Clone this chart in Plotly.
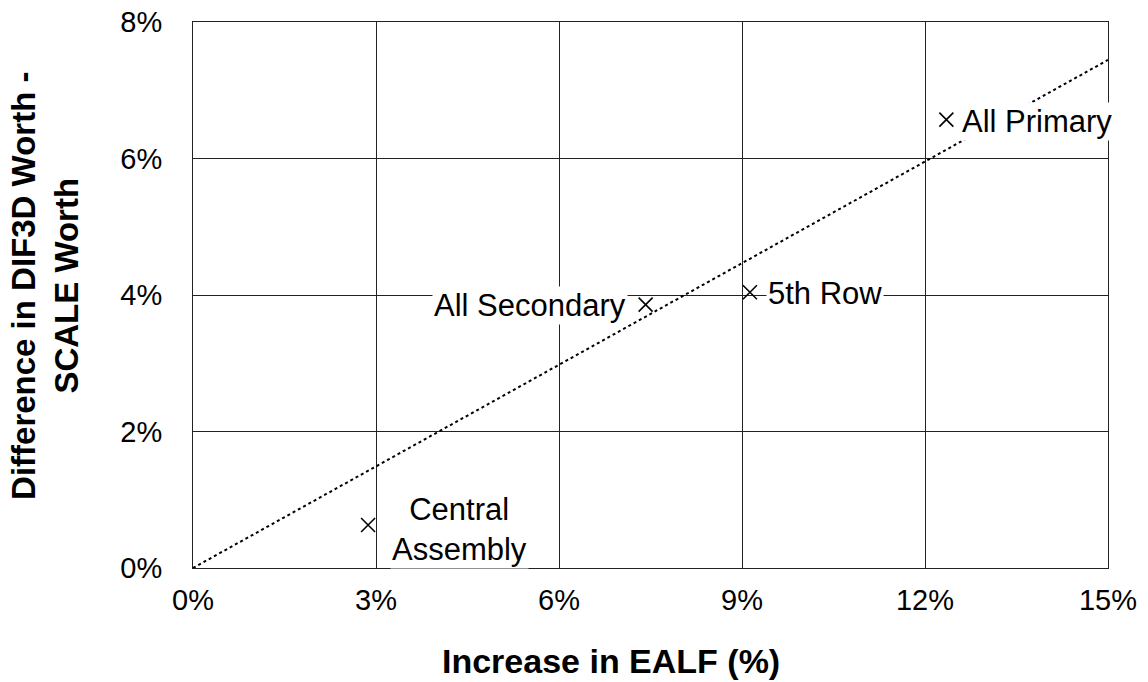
import numpy as np
import plotly.graph_objects as go

# Perturbation cases: EALF increase (%) vs worth difference (%)
cases = ["Central<br>Assembly", "All Secondary", "5th Row", "All Primary"]
ealf_increase = [2.87, 7.42, 9.13, 12.35]
worth_diff = [0.63, 3.86, 4.04, 6.57]

x_ticks = [0, 3, 6, 9, 12, 15]
y_ticks = [0, 2, 4, 6, 8]

x_title = "Increase in EALF (%)"
y_title = "Difference in DIF3D Worth -<br>SCALE Worth"

# Linear trend forced through the origin
xa = np.array(ealf_increase)
ya = np.array(worth_diff)
slope = float((xa * ya).sum() / (xa * xa).sum())
trend_x = [0, 15]
trend_y = [slope * v for v in trend_x]

font = "Liberation Sans, Arial, sans-serif"

fig = go.Figure()
fig.add_trace(go.Scatter(
    x=trend_x, y=trend_y, mode="lines",
    line=dict(color="black", width=2, dash="dot"),
    hoverinfo="skip", showlegend=False,
))
fig.add_trace(go.Scatter(
    x=ealf_increase, y=worth_diff, mode="markers",
    marker=dict(symbol="x-thin", size=14, line=dict(color="black", width=1.6)),
    showlegend=False,
))

# Point labels: (x anchor, x shift px, y shift px)
label_pos = [
    ("left", 22, -4),
    ("right", -18, -1),
    ("left", 16, -1),
    ("left", 14, -2),
]
for name, xv, yv, (anchor, dx, dy) in zip(cases, ealf_increase, worth_diff, label_pos):
    fig.add_annotation(
        x=xv, y=yv, xref="x", yref="y", text=name, showarrow=False,
        xanchor=anchor, yanchor="middle", xshift=dx, yshift=dy,
        align="center", bgcolor="white", borderpad=1,
        font=dict(family=font, size=31, color="black"),
    )

# Axis titles placed as annotations
fig.add_annotation(
    x=0.457, y=-0.170, xref="paper", yref="paper", text=f"<b>{x_title}</b>",
    showarrow=False, xanchor="center", yanchor="middle",
    font=dict(family=font, size=34, color="black"),
)
fig.add_annotation(
    x=-0.161, y=0.516, xref="paper", yref="paper", text=f"<b>{y_title}</b>",
    showarrow=False, xanchor="center", yanchor="middle", textangle=-90,
    font=dict(family=font, size=33, color="black"),
)

axis_common = dict(
    showgrid=True, gridcolor="#222222", gridwidth=1,
    showline=True, linecolor="#222222", linewidth=1, mirror=True,
    zeroline=False, ticks="", tickmode="array", automargin=False,
    tickfont=dict(family=font, size=29, color="black"),
)
fig.update_xaxes(
    range=[0, 15], tickvals=x_ticks, ticktext=[f"{v}%" for v in x_ticks],
    ticklabelstandoff=6, **axis_common,
)
fig.update_yaxes(
    range=[0, 8], tickvals=y_ticks, ticktext=[f"{v}%" for v in y_ticks],
    ticklabelstandoff=24, **axis_common,
)
fig.update_layout(
    width=1148, height=682,
    margin=dict(l=193, r=40, t=22, b=114),
    paper_bgcolor="white", plot_bgcolor="white",
)
fig.write_html("out.html")
